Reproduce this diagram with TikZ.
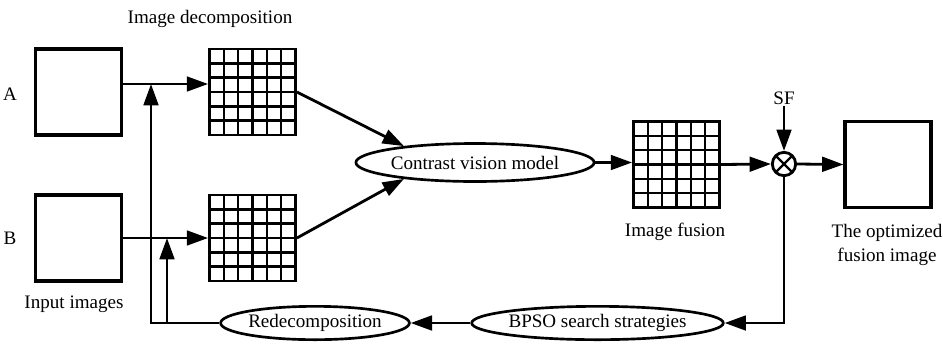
\documentclass[tikz,border=0pt]{standalone}
\usepackage{fontspec}
\setmainfont{Liberation Serif}
\usetikzlibrary{arrows.meta,shapes.geometric,calc}
\begin{document}
\begin{tikzpicture}[x=0.75pt,y=-0.75pt,
  every node/.style={font=\fontsize{14.3}{18}\selectfont},
  imgbox/.style={draw,line width=2.3pt,minimum width=64.5pt,minimum height=64.5pt,inner sep=0pt},
  gridbox/.style={imgbox,line width=2.1pt,
    path picture={
      \foreach \i in {1,...,5}{
        \draw[line width=1.9pt] ($(path picture bounding box.south west)!\i/6!(path picture bounding box.south east)$)
          -- ($(path picture bounding box.north west)!\i/6!(path picture bounding box.north east)$);
        \draw[line width=1.9pt] ($(path picture bounding box.south west)!\i/6!(path picture bounding box.north west)$)
          -- ($(path picture bounding box.south east)!\i/6!(path picture bounding box.north east)$);
      }}},
  oval/.style={draw,ellipse,line width=2pt,inner sep=0pt},
  mult/.style={draw,circle,line width=2.1pt,minimum size=17.5pt,inner sep=0pt,
    path picture={
      \draw[line width=1.8pt] (path picture bounding box.north west) -- (path picture bounding box.south east);
      \draw[line width=1.8pt] (path picture bounding box.south west) -- (path picture bounding box.north east);}},
  arr/.style={line width=2.1pt,-{Triangle[length=16pt,width=11pt]}}]
\useasboundingbox (0,0) rectangle (943,344);

% input images
\node[imgbox] (boxA) at (78.5,92) {};
\node[imgbox] (boxB) at (78.5,238) {};
\node (labA) at (10,94) {A};
\node (labB) at (10,238) {B};
\node (lin) at (74,304) {Input images};

% decomposed grids
\node[gridbox] (gridA) at (252.5,92) {};
\node[gridbox] (gridB) at (252.5,238) {};
\node (ldec) at (210,19) {Image decomposition};

% contrast model and fusion
\node[oval,minimum width=160pt,minimum height=28.5pt] (cvm) at (475,162.5) {Contrast vision model};
\node[gridbox] (fus) at (676.5,164.5) {};
\node (lfus) at (675,232) {Image fusion};
\node[mult] (mul) at (784,164) {};
\node[inner sep=1pt] (sf) at (784,98) {SF};
\node[imgbox] (out) at (888,164.5) {};
\node[align=center] (lout) at (887,245) {The optimized\\fusion image};

% feedback loop
\node[oval,minimum width=130pt,minimum height=25pt] (redec) at (315,323) {Redecomposition};
\node[oval,minimum width=186pt,minimum height=25pt] (bpso) at (597.5,323) {BPSO search strategies};
\coordinate (jA) at (151,84);
\coordinate (jB) at (167,238);

% connectors
\draw[arr] ([yshift=6pt]boxA.east) -- ([yshift=6pt]gridA.west);
\draw[arr] (boxB.east) -- (gridB.west);
\draw[arr] (gridA.east) -- (cvm.167);
\draw[arr] (gridB.east) -- (cvm.193);
\draw[arr] (cvm.east) -- (cvm.east -| fus.west);
\draw[arr] (fus.east) -- (mul.west);
\draw[arr] (sf) -- (mul.north);
\draw[arr] (mul.east) -- (out.west);
\draw[arr] (mul.south) |- (bpso.east);
\draw[arr] (bpso.west) -- (redec.east);
\draw[arr] (redec.west) -| (jA);
\draw[arr] (redec.west) -| (jB);
\end{tikzpicture}
\end{document}
